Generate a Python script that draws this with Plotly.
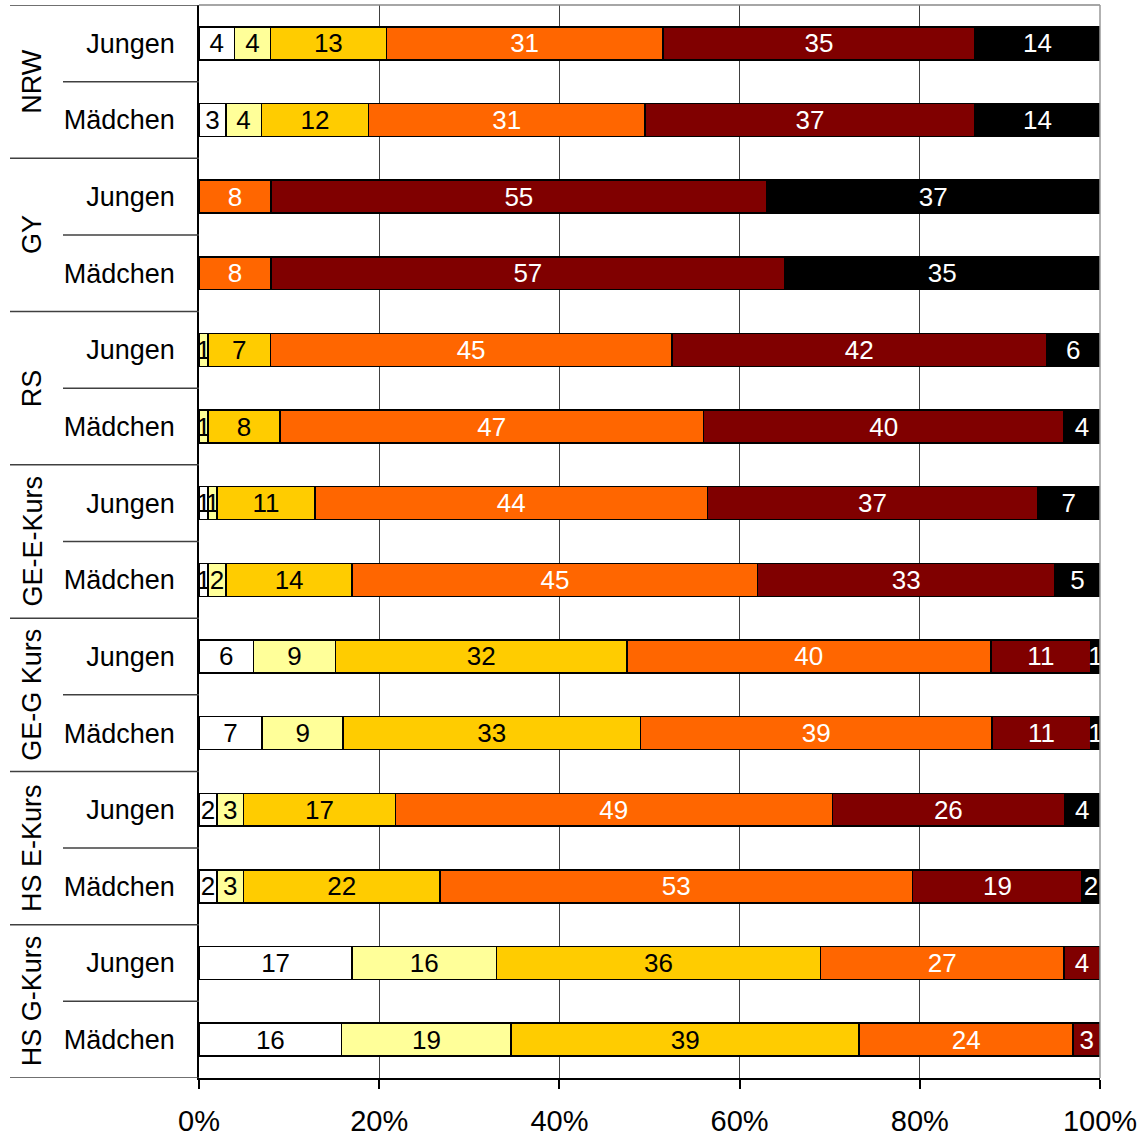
import plotly.graph_objects as go

groups = ["NRW", "GY", "RS", "GE-E-Kurs", "GE-G Kurs", "HS E-Kurs", "HS G-Kurs"]
genders = ["Jungen", "Mädchen"]
row_labels = [g for _ in groups for g in genders]

seg1 = [4, 3, 0, 0, 0, 0, 1, 1, 6, 7, 2, 2, 17, 16]
seg2 = [4, 4, 0, 0, 1, 1, 1, 2, 9, 9, 3, 3, 16, 19]
seg3 = [13, 12, 0, 0, 7, 8, 11, 14, 32, 33, 17, 22, 36, 39]
seg4 = [31, 31, 8, 8, 45, 47, 44, 45, 40, 39, 49, 53, 27, 24]
seg5 = [35, 37, 55, 57, 42, 40, 37, 33, 11, 11, 26, 19, 4, 3]
seg6 = [14, 14, 37, 35, 6, 4, 7, 5, 1, 1, 4, 2, 0, 0]

series = [seg1, seg2, seg3, seg4, seg5, seg6]
colors = ["#FFFFFF", "#FFFF99", "#FFCC00", "#FF6600", "#800000", "#000000"]
text_colors = ["#000000", "#000000", "#000000", "#FFFFFF", "#FFFFFF", "#FFFFFF"]

x_ticks = [0, 20, 40, 60, 80, 100]
x_ticktext = ["0%", "20%", "40%", "60%", "80%", "100%"]

FONT = "Liberation Sans, Arial, sans-serif"
W, H = 1147, 1138
ML, MR, MT, MB = 199, 47, 5, 60
PW = W - ML - MR

ypos = list(range(len(row_labels)))

fig = go.Figure()
for vals, col, tcol in zip(series, colors, text_colors):
    fig.add_trace(go.Bar(
        y=ypos, x=[v if v else None for v in vals], orientation="h",
        marker=dict(color=col, line=dict(color="#000000", width=1.5)),
        text=[str(v) if v else "" for v in vals],
        textposition="inside", insidetextanchor="middle", textangle=0,
        constraintext="none",
        insidetextfont=dict(family=FONT, size=26, color=tcol),
        hoverinfo="skip", width=0.43,
    ))

shapes = []
def px2paper(px):
    return (px - ML) / PW

for k in range(len(row_labels) + 1):
    yb = k - 0.5
    x0 = px2paper(10) if k % 2 == 0 else px2paper(63)
    shapes.append(dict(type="line", xref="paper", yref="y", x0=x0, x1=0, y0=yb, y1=yb,
                       line=dict(color="#404040", width=1.5), layer="above"))
# top and right borders (gray)
shapes.append(dict(type="line", xref="paper", yref="paper", x0=0, x1=1, y0=1, y1=1,
                   line=dict(color="#888888", width=1.5)))
shapes.append(dict(type="line", xref="paper", yref="paper", x0=1, x1=1, y0=0, y1=1,
                   line=dict(color="#999999", width=1.5)))

annotations = []
for gi, g in enumerate(groups):
    annotations.append(dict(
        text=g, xref="paper", yref="y", x=px2paper(32), y=gi * 2 + 0.5,
        textangle=-90, showarrow=False, xanchor="center", yanchor="middle",
        font=dict(family=FONT, size=27, color="#000000"),
    ))

fig.update_layout(
    barmode="stack", barnorm="percent",
    width=W, height=H,
    margin=dict(l=ML, r=MR, t=MT, b=MB, autoexpand=False),
    paper_bgcolor="#FFFFFF", plot_bgcolor="#FFFFFF",
    showlegend=False,
    shapes=shapes, annotations=annotations,
    font=dict(family=FONT, size=26, color="#000000"),
)
fig.update_xaxes(
    range=[0, 100], tickvals=x_ticks, ticktext=x_ticktext,
    showgrid=True, gridcolor="#404040", gridwidth=1,
    showline=True, linecolor="#000000", linewidth=1.5,
    ticks="outside", ticklen=9, tickcolor="#000000", tickwidth=1.5,
    ticklabelstandoff=7, zeroline=False, automargin=False,
    tickfont=dict(family=FONT, size=29, color="#000000"),
)
fig.update_yaxes(
    range=[len(row_labels) - 0.5, -0.5],
    tickvals=ypos, ticktext=row_labels,
    showgrid=False, showline=True, linecolor="#000000", linewidth=1.5,
    ticks="", ticklabelstandoff=17, zeroline=False, automargin=False,
    tickfont=dict(family=FONT, size=27, color="#000000"),
)

fig.write_html(
    "out.html",
    config={"displayModeBar": False},
    post_script="document.body.style.margin='0';document.body.style.overflow='hidden';",
)
